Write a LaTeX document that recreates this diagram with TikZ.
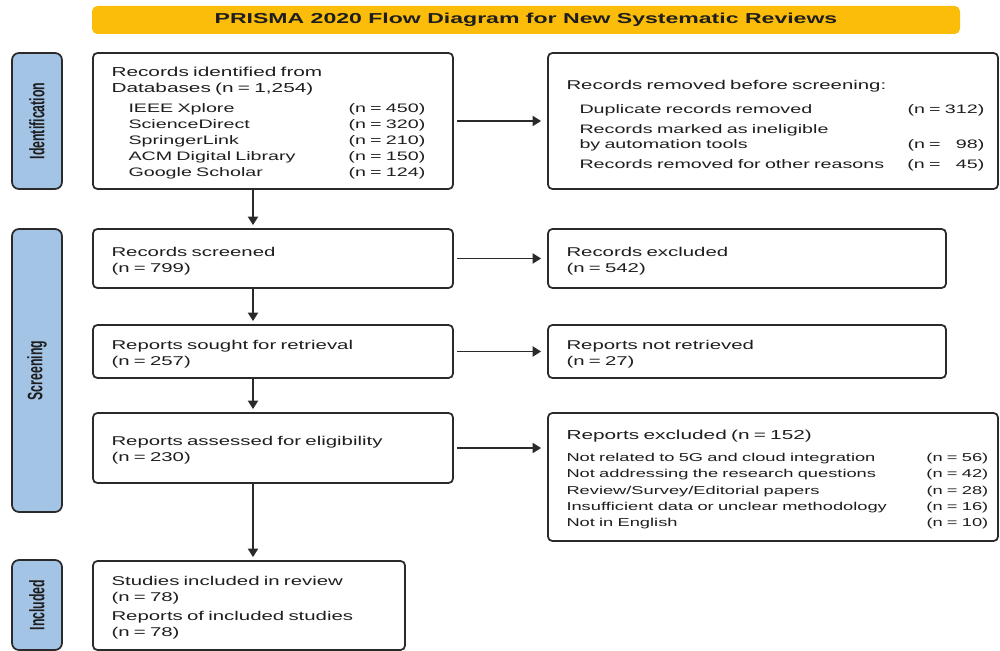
\documentclass[tikz,border=0pt]{standalone}
\usepackage{fontspec}
\setmainfont{Liberation Sans}[FakeStretch=1.6]
\newfontfamily\sidefont{Liberation Sans}[FakeStretch=0.59]
\usepackage{xcolor}
\usetikzlibrary{arrows.meta,positioning,calc}
\definecolor{bannerYellow}{HTML}{FBBC0A}
\definecolor{sideBlue}{HTML}{A4C4E6}
\definecolor{lineGray}{HTML}{2A2A2A}
\definecolor{textGray}{HTML}{1E1E1E}
\newcommand{\itemsize}{\fontsize{7}{9.1}\selectfont}
\newcommand{\headsize}{\fontsize{7.4}{9.1}\selectfont}

\begin{document}
\begin{tikzpicture}[font=\fontsize{7.25}{9.1}\selectfont,text=textGray,
  box/.style={draw=lineGray,rounded corners=2.5pt,line width=1pt,fill=white,inner xsep=0.37cm,inner ysep=0pt,align=left,execute at begin node=\rule{0pt}{8pt}},
  sidebox/.style={draw=lineGray,rounded corners=4pt,line width=1pt,fill=sideBlue,rotate=90,minimum height=1cm,inner sep=0pt,font=\sidefont\bfseries\fontsize{11.9}{12}\selectfont},
  arr/.style={-{Triangle[length=0.17cm,width=0.2cm]},line width=1.1pt,lineGray,shorten >=0.06cm}]
    \useasboundingbox (0,0) rectangle (20,-13.02);
    % Title banner
    \node[fill=bannerYellow,rounded corners=3pt,minimum width=17.36cm,minimum height=0.56cm,font=\bfseries\fontsize{8.2}{9}\selectfont] at (10.52,-0.4) (title) {PRISMA 2020 Flow Diagram for New Systematic Reviews};

    % Stage labels on the left
    \node[sidebox,minimum width=2.72cm] at (0.74,-2.42) (idside) {Identification};
    \node[sidebox,minimum width=5.66cm] at (0.74,-7.41) (scside) {Screening};
    \node[sidebox,minimum width=1.8cm] at (0.74,-12.1) (inside) {Included};

    % Main column
    \node[box,text width=6.46cm,minimum height=2.72cm,execute at begin node=\rule{0pt}{5pt}] at (5.46,-2.42) (ident) {\headsize Records identified from\\Databases (n = 1,254)\\[2.3pt]\itemsize
      \hspace*{0.34cm}\makebox[4.4cm][l]{IEEE Xplore}\rlap{(n = 450)}\\
      \hspace*{0.34cm}\makebox[4.4cm][l]{ScienceDirect}\rlap{(n = 320)}\\
      \hspace*{0.34cm}\makebox[4.4cm][l]{SpringerLink}\rlap{(n = 210)}\\
      \hspace*{0.34cm}\makebox[4.4cm][l]{ACM Digital Library}\rlap{(n = 150)}\\
      \hspace*{0.34cm}\makebox[4.4cm][l]{Google Scholar}\rlap{(n = 124)}};
    \node[box,text width=6.46cm,minimum height=1.18cm] at (5.46,-5.17) (screened) {Records screened\\(n = 799)};
    \node[box,text width=6.46cm,minimum height=1.06cm] at (5.46,-7.03) (sought) {Reports sought for retrieval\\(n = 257)};
    \node[box,text width=6.46cm,minimum height=1.4cm] at (5.46,-8.96) (assessed) {Reports assessed for eligibility\\(n = 230)};
    \node[box,text width=5.5cm,minimum height=1.78cm] at (4.98,-12.11) (included) {Studies included in review\\(n = 78)\\[1.7pt]Reports of included studies\\(n = 78)};

    % Right column
    \node[box,text width=8.26cm,minimum height=2.72cm,execute at begin node=\rule{0pt}{11pt}] at (15.46,-2.42) (removed) {Records removed before screening:\\[4.5pt]\itemsize
      \hspace*{0.26cm}\makebox[6.56cm][l]{Duplicate records removed}\rlap{(n = 312)}\\[2.3pt]
      \hspace*{0.26cm}Records marked as ineligible\\[-1pt]
      \hspace*{0.26cm}\makebox[6.56cm][l]{by automation tools}\rlap{(n = \phantom{0}98)}\\[2.8pt]
      \hspace*{0.26cm}\makebox[6.56cm][l]{Records removed for other reasons}\rlap{(n = \phantom{0}45)}};
    \node[box,text width=7.22cm,minimum height=1.18cm] at (14.94,-5.17) (excluded) {Records excluded\\(n = 542)};
    \node[box,text width=7.22cm,minimum height=1.06cm] at (14.94,-7.03) (notret) {Reports not retrieved\\(n = 27)};
    \node[box,text width=8.26cm,minimum height=2.56cm,execute at begin node=\rule{0pt}{5pt}] at (15.46,-9.54) (repexcl) {\headsize Reports excluded (n = 152)\\[3.1pt]\fontsize{6.5}{9.4}\selectfont
      \makebox[7.2cm][l]{Not related to 5G and cloud integration}\rlap{(n = 56)}\\
      \makebox[7.2cm][l]{Not addressing the research questions}\rlap{(n = 42)}\\
      \makebox[7.2cm][l]{Review/Survey/Editorial papers}\rlap{(n = 28)}\\
      \makebox[7.2cm][l]{Insufficient data or unclear methodology}\rlap{(n = 16)}\\
      \makebox[7.2cm][l]{Not in English}\rlap{(n = 10)}};

    % Arrows
    \coordinate (spine) at (5.06,0);
    \draw[arr] (ident.south -| spine) -- (screened.north -| spine);
    \draw[arr] (screened.south -| spine) -- (sought.north -| spine);
    \draw[arr] (sought.south -| spine) -- (assessed.north -| spine);
    \draw[arr] (assessed.south -| spine) -- (included.north -| spine);
    \draw[arr,shorten <=0.06cm,shorten >=0.12cm] (ident.east) -- (removed.west);
    \draw[arr,shorten <=0.06cm,shorten >=0.12cm] (screened.east) -- (excluded.west);
    \draw[arr,shorten <=0.06cm,shorten >=0.12cm] (sought.east) -- (notret.west);
    \draw[arr,shorten <=0.06cm,shorten >=0.12cm] (assessed.east) -- (assessed.east -| repexcl.west);
\end{tikzpicture}
\end{document}
